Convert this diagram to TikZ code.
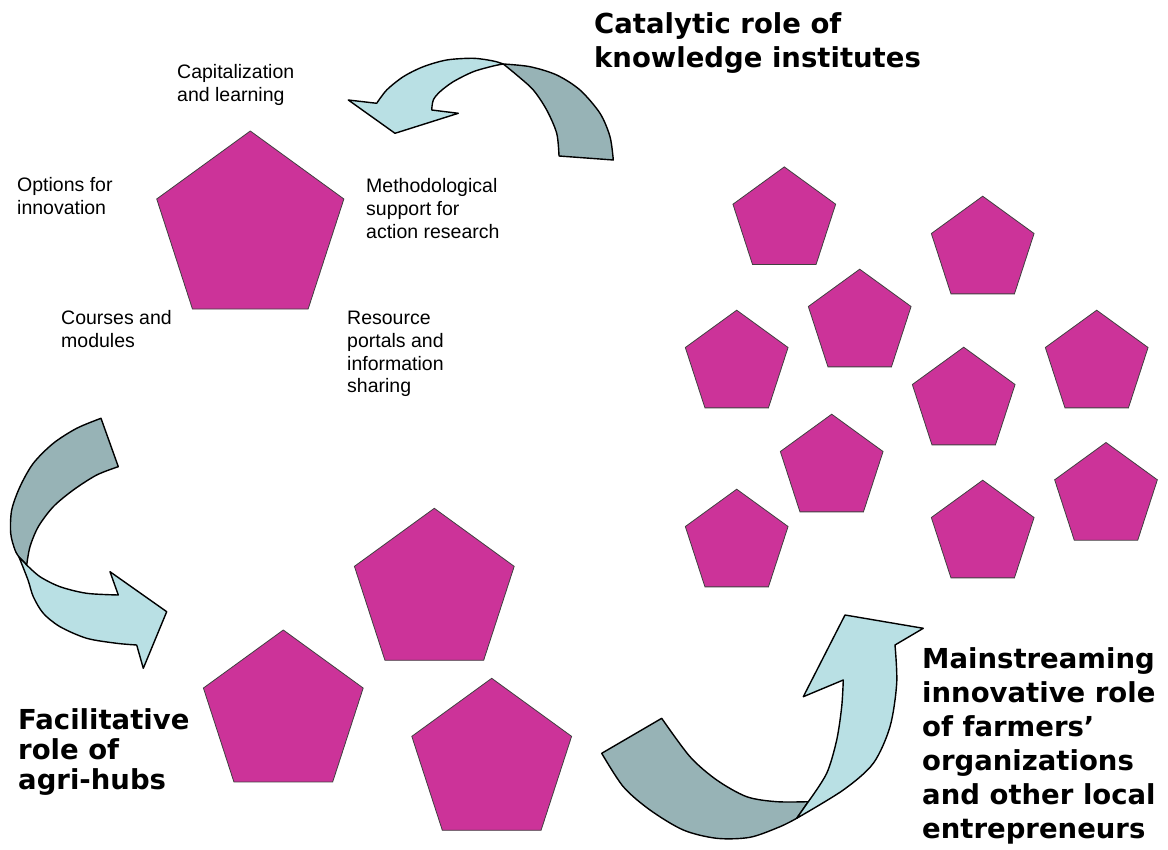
\documentclass[tikz,border=0pt]{standalone}
\usepackage{fontspec}
\setmainfont{Liberation Sans}
\newfontfamily\vfont{DejaVu Sans}
\usetikzlibrary{shapes.geometric}
\definecolor{pent}{RGB}{204,51,153}
\definecolor{arrlight}{RGB}{185,224,228}
\definecolor{arrdark}{RGB}{151,179,182}
\tikzset{
 pentagon/.style={regular polygon, regular polygon sides=5, fill=pent, draw=black!75, line width=0.8pt, inner sep=0pt, outer sep=0pt},
 bigpent/.style={pentagon, minimum size=196.8pt},
 smallpent/.style={pentagon, minimum size=108pt},
 midpent/.style={pentagon, minimum size=168pt},
 lbl/.style={anchor=base west, inner sep=0pt, font=\fontsize{19.5}{22.8}\selectfont},
 role/.style={anchor=base west, inner sep=0pt},
 lightpart/.style={fill=arrlight, draw=black, line width=1.4pt, line join=round},
 darkpart/.style={fill=arrdark, draw=black, line width=1.4pt, line join=round},
}
\newcommand{\lines}[1]{\begin{tabular}[t]{@{}l@{}}#1\end{tabular}}
\begin{document}
\begin{tikzpicture}[x=1pt,y=-1pt]
\useasboundingbox (0,0) rectangle (1168,850);

% ---- pentagons ----
\node[bigpent] (main) at (250.3,229.4) {};
\node[smallpent] (p1) at (784.3,220.9) {};
\node[smallpent] (p2) at (982.7,250.2) {};
\node[smallpent] (p3) at (859.7,323.2) {};
\node[smallpent] (p4) at (736.7,364.2) {};
\node[smallpent] (p5) at (963.7,401.2) {};
\node[smallpent] (p6) at (1096.7,364.2) {};
\node[smallpent] (p7) at (831.7,468.2) {};
\node[smallpent] (p8) at (736.7,543.2) {};
\node[smallpent] (p9) at (982.7,534.2) {};
\node[smallpent] (p10) at (1106,496.5) {};
\node[midpent] (b1) at (434.3,592.3) {};
\node[midpent] (b2) at (283.3,714) {};
\node[midpent] (b3) at (491.7,762.3) {};

% ---- labels around main pentagon ----
\node[lbl] (cap) at (177,78.5) {\lines{Capitalization\\and learning}};
\node[lbl] (opt) at (17,191.5) {\lines{Options for\\innovation}};
\node[lbl] (meth) at (366,192.5) {\lines{Methodological\\support for\\action research}};
\node[lbl] (cou) at (61,325) {\lines{Courses and\\modules}};
\node[lbl] (res) at (347,324.5) {\lines{Resource\\portals and\\information\\sharing}};

% ---- role titles ----
\node[role, font=\vfont\bfseries\fontsize{27.5}{34}\selectfont] (cat) at (594,34) {\lines{Catalytic role of\\knowledge institutes}};
\node[role, font=\vfont\bfseries\fontsize{27.5}{30}\selectfont] (fac) at (18,729) {\lines{Facilitative\\role of\\agri-hubs}};
\node[role, font=\vfont\bfseries\fontsize{27.5}{34}\selectfont] (mai) at (922,668) {\lines{Mainstreaming\\innovative role\\of farmers’\\organizations\\and other local\\entrepreneurs}};

% ---- arrow 1 (top) ----
\draw[darkpart] (503.3,64) -- plot[smooth] coordinates {(503.3,64) (530,66.7) (556.7,75) (580,90) (600,113.3) (610,136.7) (613.3,160)}
  -- (559,156) -- plot[smooth] coordinates {(559,156) (556.7,133.3) (546.7,110) (533.3,90) (516.7,75) (503.3,64)} -- cycle;
\draw[lightpart] (376.7,103.3) -- (348.3,100) -- (395,133.3) -- (458.3,113.3) -- (431.7,110)
  -- plot[smooth] coordinates {(431.7,110) (433.3,100) (440,91.7) (453.3,81.7) (473.3,71.7) (493.3,66) (503.3,64)}
  -- plot[smooth] coordinates {(503.3,64) (493.3,61) (473.3,58.3) (446.7,60) (423.3,66.7) (403.3,76.7) (386.7,90) (376.7,103.3)} -- cycle;

% ---- arrow 2 (left) ----
\draw[darkpart] (101,418.3) -- plot[smooth] coordinates {(101,418.3) (76.7,428.3) (53.3,443.3) (33.3,463.3) (20,486.7) (11.7,510) (10.7,533.3) (15,550) (19,557)}
  -- (26.7,565) -- plot[smooth] coordinates {(26.7,565) (30,546.7) (38.3,526.7) (53.3,506.7) (73.3,490) (96.7,475) (118.3,466.7)} -- cycle;
\draw[lightpart] (19,557) -- plot[smooth] coordinates {(19,557) (28,580) (33.3,596.7) (43.3,613.3) (60,626.7) (86.7,638.3) (116.7,643.3) (136.7,645)}
  -- (143.3,668.3) -- (166.7,611.7) -- (110,571.7) -- (118.3,595)
  -- plot[smooth] coordinates {(118.3,595) (86.7,593.3) (60,586.7) (40,576.7) (26.7,565)} -- cycle;

% ---- arrow 3 (bottom right) ----
\draw[darkpart] (601.7,753.3) -- plot[smooth] coordinates {(601.7,753.3) (623.3,786.7) (650,810) (683.3,830) (716.7,838.3) (750,837.3) (780,826.7) (796.7,818.3)}
  -- (808.3,801.7) -- plot[smooth] coordinates {(808.3,801.7) (776.7,801.7) (746.7,796.7) (716.7,780) (690,756.7) (661.7,718.3)} -- cycle;
\draw[lightpart] (796.7,818.3) -- plot[smooth] coordinates {(796.7,818.3) (843.3,790) (873.3,763.3) (890,726.7) (896.7,683.3) (895,645)}
  -- (923.3,628.3) -- (845,615) -- (803.3,696.7) -- (843.3,680)
  -- plot[smooth] coordinates {(843.3,680) (841.7,706.7) (836.7,740) (826.7,773.3) (808.3,801.7)} -- cycle;
\end{tikzpicture}
\end{document}
